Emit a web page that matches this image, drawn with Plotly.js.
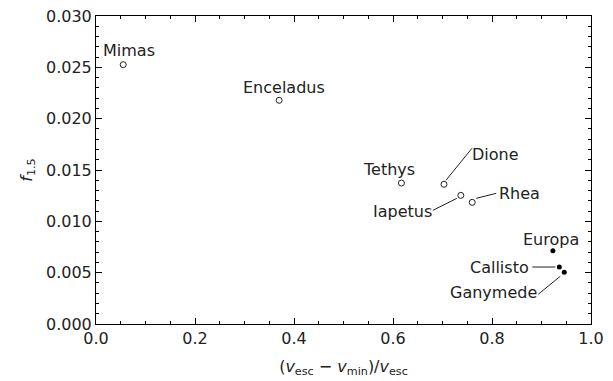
<!DOCTYPE html>
<html>
<head>
<meta charset="utf-8">
<script src="https://cdn.plot.ly/plotly-3.0.1.min.js"></script>
<style>html,body{margin:0;padding:0;background:#fff;}#chart{width:613px;height:381px;}</style>
</head>
<body>
<div id="chart"></div>
<script>
// Saturnian moons (open circles)
const satNames = ["Mimas", "Enceladus", "Tethys", "Dione", "Iapetus", "Rhea"];
const satX = [0.055, 0.370, 0.617, 0.703, 0.737, 0.760];
const satY = [0.02526, 0.02179, 0.01373, 0.01361, 0.01253, 0.01185];
// Jovian moons (filled dots)
const jovNames = ["Europa", "Callisto", "Ganymede"];
const jovX = [0.923, 0.936, 0.946];
const jovY = [0.00714, 0.00555, 0.00504];

const xTickVals = [0, 0.2, 0.4, 0.6, 0.8, 1.0];
const xTickText = ["0.0", "0.2", "0.4", "0.6", "0.8", "1.0"];
const yTickVals = [0, 0.005, 0.01, 0.015, 0.02, 0.025, 0.03];
const yTickText = ["0.000", "0.005", "0.010", "0.015", "0.020", "0.025", "0.030"];

// label placement (pixel offsets from the point): [xanchor, xshift, yshift]
const labelPos = {
  Mimas: ["center", 6, 14],
  Enceladus: ["center", 5, 13],
  Tethys: ["center", -12, 14],
  Dione: ["left", 26, 30],
  Iapetus: ["right", -27, -16],
  Rhea: ["left", 25, 9],
  Europa: ["center", -2, 11],
  Callisto: ["right", -28, 0],
  Ganymede: ["right", -25, -20]
};
// leader lines, pixel offsets from the point (y up): [x0, y0, x1, y1]
const leaders = {
  Dione: [2, 4, 28, 36],
  Iapetus: [-4, -3, -28, -15],
  Rhea: [4, 4, 24, 9],
  Callisto: [-4, 0, -27, 0],
  Ganymede: [-4, -4, -26, -22]
};

const FONT = "DejaVu Sans, sans-serif";
const TXT = "#222";

const traces = [
  {
    x: satX, y: satY, mode: "markers", type: "scatter",
    marker: {symbol: "circle-open", size: 6, color: "#222", line: {width: 1, color: "#222"}},
    hoverinfo: "skip", showlegend: false
  },
  {
    x: jovX, y: jovY, mode: "markers", type: "scatter",
    marker: {symbol: "circle", size: 5, color: "#000"},
    hoverinfo: "skip", showlegend: false
  }
];

const annotations = [];
const shapes = [];
function addLabels(names, xs, ys) {
  names.forEach((n, i) => {
    const p = labelPos[n];
    annotations.push({
      x: xs[i], y: ys[i], xref: "x", yref: "y", text: n, showarrow: false,
      xanchor: p[0], yanchor: "middle", xshift: p[1], yshift: p[2],
      font: {family: FONT, size: 16, color: TXT}
    });
    if (leaders[n]) {
      const l = leaders[n];
      shapes.push({
        type: "line", xref: "x", yref: "y",
        xsizemode: "pixel", ysizemode: "pixel", xanchor: xs[i], yanchor: ys[i],
        x0: l[0], y0: l[1], x1: l[2], y1: l[3],
        line: {color: "#222", width: 1}
      });
    }
  });
}
addLabels(satNames, satX, satY);
addLabels(jovNames, jovX, jovY);

const axisCommon = {
  showgrid: false, zeroline: false, showline: true, linecolor: "#000", linewidth: 1,
  mirror: "allticks", ticks: "inside", ticklen: 6, tickwidth: 1, tickcolor: "#000",
  tickfont: {family: FONT, size: 16, color: TXT}, tickmode: "array"
};

const layout = {
  width: 613, height: 381,
  margin: {l: 96, r: 22, t: 16, b: 57},
  paper_bgcolor: "#fff", plot_bgcolor: "#fff",
  showlegend: false,
  xaxis: Object.assign({}, axisCommon, {
    range: [0, 1], tickvals: xTickVals, ticktext: xTickText,
    minor: {dtick: 0.05, ticks: "inside", ticklen: 3, tickcolor: "#000"},
    title: {text: "(<i>v</i><sub>esc</sub> − <i>v</i><sub>min</sub>)/<i>v</i><sub>esc</sub>",
            font: {family: FONT, size: 16, color: TXT}, standoff: 13}
  }),
  yaxis: Object.assign({}, axisCommon, {
    range: [0, 0.03], tickvals: yTickVals, ticktext: yTickText,
    minor: {dtick: 0.001, ticks: "inside", ticklen: 3, tickcolor: "#000"},
    title: {text: "<i>f</i><sub>1.5</sub>", font: {family: FONT, size: 16, color: TXT}, standoff: 9}
  }),
  shapes: shapes,
  annotations: annotations
};

Plotly.newPlot("chart", traces, layout, {staticPlot: true, displayModeBar: false});
</script>
</body>
</html>
